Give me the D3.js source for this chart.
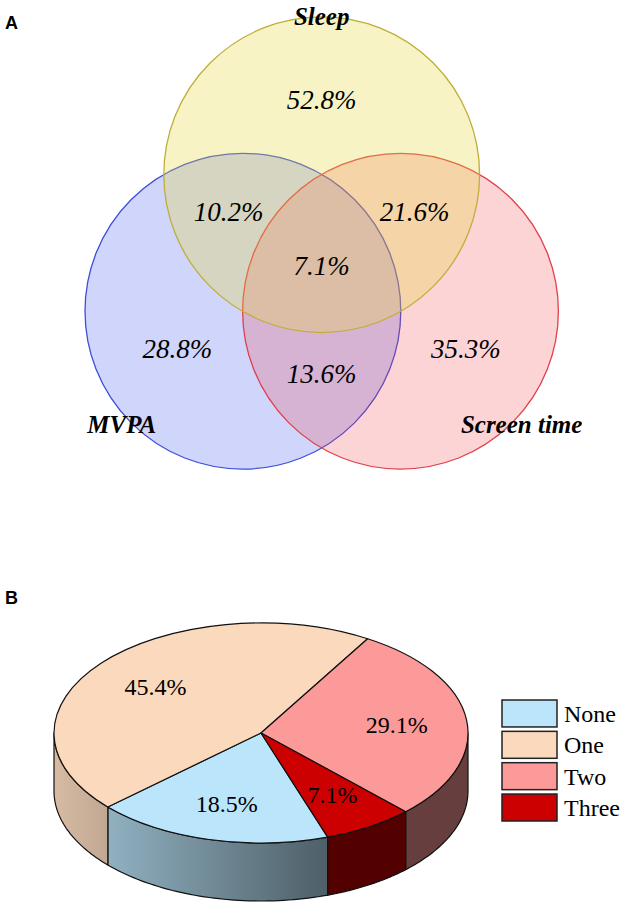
<!DOCTYPE html>
<html>
<head>
<meta charset="utf-8">
<script src="https://cdn.jsdelivr.net/npm/d3@7"></script>
<style>
  body { margin: 0; background: #fff; }
  svg { display: block; }
</style>
</head>
<body>
<svg id="chart"></svg>
<script>
// ---- panel A : venn of the three behaviours ----
const setNames = ["Sleep", "MVPA", "Screen time"];
const setAngles = [-90, 150, 30];          // where each circle sits around the middle
const setLabelAngles = [-90, 137, 43];
const setLabelDist = [1.74, 1.82, 1.82];
const setFills = ["#e6d73c", "#5064f0", "#f03c46"];
const setStrokes = ["#bfae3a", "#3d4fd6", "#e0404a"];
const regionLabels = ["52.8%", "28.8%", "35.3%", "10.2%", "21.6%", "13.6%", "7.1%"];
const regionSets = [[0], [1], [2], [0, 1], [0, 2], [1, 2], [0, 1, 2]];

// ---- panel B : number of guidelines met ----
const groups = ["None", "One", "Two", "Three"];
const shares = [18.5, 45.4, 29.1, 7.1];
const groupColors = ["#bbe5fa", "#fad9bd", "#fc9a99", "#cc0000"];

const W = 624, H = 908;
const svg = d3.select("#chart").attr("width", W).attr("height", H);
const serif = "'Liberation Serif', 'Times New Roman', serif";

// panel letters
svg.append("text").attr("x", 5).attr("y", 29).text("A")
  .style("font-family", "'Liberation Sans', Arial, sans-serif").style("font-weight", "bold").style("font-size", "18px");
svg.append("text").attr("x", 5).attr("y", 604).text("B")
  .style("font-family", "'Liberation Sans', Arial, sans-serif").style("font-weight", "bold").style("font-size", "18px");

// ================= venn =================
var vx = d3.scaleLinear().domain([-1, 1]).range([321.7 - 91, 321.7 + 91]);
var vy = d3.scaleLinear().domain([-1, 1]).range([265.7 - 91, 265.7 + 91]);
var unitR = 1.735;
var rad = function (a) { return a * Math.PI / 180; };

var venn = svg.append("g");
// draw MVPA, then screen time, then sleep on top
[1, 2, 0].forEach(function (i) {
  venn.append("circle")
    .attr("cx", vx(Math.cos(rad(setAngles[i]))))
    .attr("cy", vy(Math.sin(rad(setAngles[i]))))
    .attr("r", vx(unitR) - vx(0))
    .attr("fill", setFills[i])
    .attr("fill-opacity", i == 0 ? 0.3 : (i == 1 ? 0.27 : 0.22))
    .attr("stroke", setStrokes[i])
    .attr("stroke-width", 1.3);
});

function regionPos(k) {
  var members = regionSets[k];
  var sx = 0, sy = 0;
  members.forEach(function (i) {
    sx += Math.cos(rad(setAngles[i]));
    sy += Math.sin(rad(setAngles[i]));
  });
  var len = Math.sqrt(sx * sx + sy * sy);
  if (len < 1e-6) return [0, 0];
  var dist = members.length == 1 ? 1.83 : 1.18;
  return [sx / len * dist, sy / len * dist];
}

venn.selectAll(".region")
  .data(regionLabels)
  .enter()
  .append("text")
  .attr("class", "region")
  .attr("x", function (d, k) { return vx(regionPos(k)[0]); })
  .attr("y", function (d, k) { return vy(regionPos(k)[1]); })
  .attr("dy", "0.35em")
  .attr("text-anchor", "middle")
  .style("font-family", serif)
  .style("font-style", "italic")
  .style("font-size", "27px")
  .text(function (d) { return d; });

venn.selectAll(".setname")
  .data(setNames)
  .enter()
  .append("text")
  .attr("class", "setname")
  .attr("x", function (d, i) { return vx(Math.cos(rad(setAngles[i])) + setLabelDist[i] * Math.cos(rad(setLabelAngles[i]))); })
  .attr("y", function (d, i) { return vy(Math.sin(rad(setAngles[i])) + setLabelDist[i] * Math.sin(rad(setLabelAngles[i]))); })
  .attr("dy", "0.35em")
  .attr("text-anchor", "middle")
  .style("font-family", serif)
  .style("font-style", "italic")
  .style("font-weight", "bold")
  .style("font-size", "25px")
  .text(function (d) { return d; });

// ================= 3d pie =================
var cx = 261, cy = 733, rx = 207, ry = 110, depth = 58;
var start = rad(161.2);

var pie = d3.pie().sort(null).value(function (d) { return d; })
  .startAngle(start).endAngle(start + 2 * Math.PI);
var slices = pie(shares);

var defs = svg.append("defs");
groupColors.forEach(function (c, i) {
  var g = defs.append("linearGradient")
    .attr("id", "side" + i)
    .attr("gradientUnits", "userSpaceOnUse")
    .attr("x1", cx - rx).attr("x2", cx + rx).attr("y1", 0).attr("y2", 0);
  [[0, 0.86], [0.68, 0.4], [1, 0.4]].forEach(function (s) {
    var b = d3.rgb(c);
    g.append("stop").attr("offset", s[0])
      .attr("stop-color", d3.rgb(b.r * s[1], b.g * s[1], b.b * s[1]).formatHex());
  });
});

function sidePath(lo, hi) {
  var n = 48, pts = [];
  for (var i = 0; i <= n; i++) {
    var t = lo + (hi - lo) * i / n;
    pts.push([cx + rx * Math.cos(t), cy + ry * Math.sin(t)]);
  }
  var bottom = pts.slice().reverse().map(function (p) { return [p[0], p[1] + depth]; });
  return d3.line()(pts.concat(bottom)) + "Z";
}

var sides = svg.append("g");
slices.forEach(function (d, i) {
  var t0 = d.startAngle - Math.PI / 2, t1 = d.endAngle - Math.PI / 2;
  [-1, 0, 1, 2].forEach(function (k) {
    var lo = Math.max(t0 + 2 * Math.PI * k, 0);
    var hi = Math.min(t1 + 2 * Math.PI * k, Math.PI);
    if (lo < hi) {
      sides.append("path")
        .attr("d", sidePath(lo, hi))
        .attr("fill", "url(#side" + i + ")")
        .attr("stroke", "#111")
        .attr("stroke-width", 1.2)
        .attr("stroke-linejoin", "round");
    }
  });
});

var arc = d3.arc().innerRadius(0).outerRadius(rx);
var face = svg.append("g").attr("transform", "translate(" + cx + "," + cy + ") scale(1," + (ry / rx) + ")");
face.selectAll("path")
  .data(slices)
  .enter()
  .append("path")
  .attr("d", arc)
  .attr("fill", function (d, i) { return groupColors[i]; })
  .attr("stroke", "#111")
  .attr("stroke-width", 1.2)
  .attr("stroke-linejoin", "round")
  .attr("vector-effect", "non-scaling-stroke");

var labelArc = d3.arc().innerRadius(0.66 * rx).outerRadius(0.66 * rx);
svg.append("g").selectAll("text")
  .data(slices)
  .enter()
  .append("text")
  .attr("x", function (d) { return cx + labelArc.centroid(d)[0]; })
  .attr("y", function (d) { return cy + labelArc.centroid(d)[1] * ry / rx; })
  .attr("dy", "0.35em")
  .attr("text-anchor", "middle")
  .style("font-family", serif)
  .style("font-size", "24px")
  .text(function (d) { return d.data.toFixed(1) + "%"; });

// legend
var legY = d3.scaleBand().domain(groups).range([700, 821]).paddingInner(0.14);
var leg = svg.append("g");
leg.selectAll("rect")
  .data(groups)
  .enter()
  .append("rect")
  .attr("x", 502)
  .attr("y", function (d) { return legY(d); })
  .attr("width", 55)
  .attr("height", legY.bandwidth())
  .attr("fill", function (d, i) { return groupColors[i]; })
  .attr("stroke", "#222")
  .attr("stroke-width", 1.5);
leg.selectAll("text")
  .data(groups)
  .enter()
  .append("text")
  .attr("x", 564)
  .attr("y", function (d) { return legY(d) + legY.bandwidth() - 5; })
  .style("font-family", serif)
  .style("font-size", "24px")
  .text(function (d) { return d; });
</script>
</body>
</html>
